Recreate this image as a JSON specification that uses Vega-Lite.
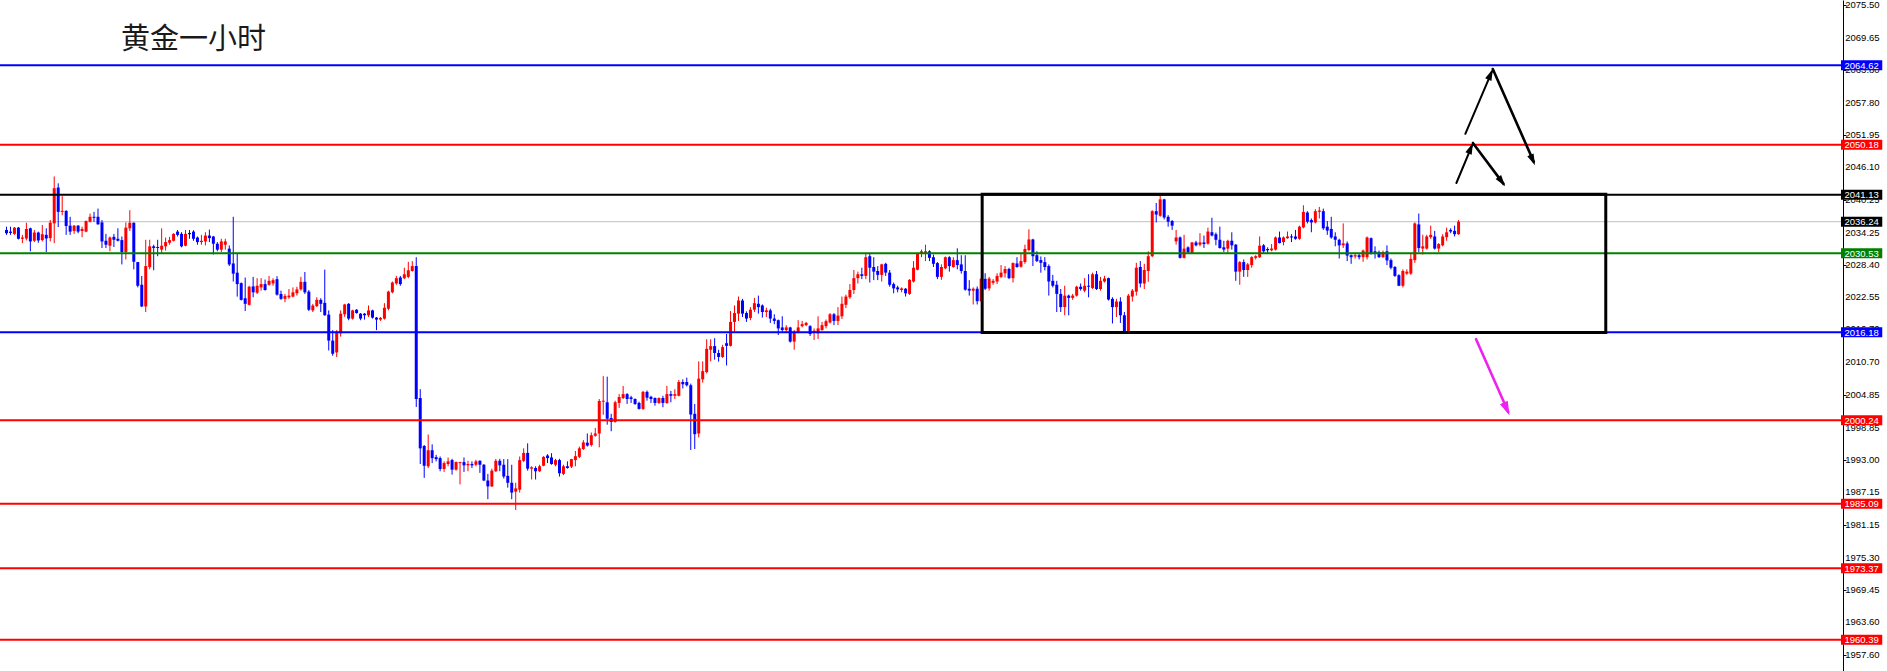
{
"$schema":"https://vega.github.io/schema/vega-lite/v6.json",
"width":1843,"height":671,
"autosize":{"type":"none"},
"padding":{"left":0,"top":0,"right":44,"bottom":0},
"background":"white",
"config":{"view":{"stroke":null}},
"datasets":{
"levels":[
{"price":2064.62,"grp":"target"},{"price":2050.18,"grp":"level"},{"price":2041.13,"grp":"box"},{"price":2036.24,"grp":"current"},{"price":2030.53,"grp":"pivot"},{"price":2016.18,"grp":"target"},{"price":2000.24,"grp":"level"},{"price":1985.09,"grp":"level"},{"price":1973.37,"grp":"level"},{"price":1960.39,"grp":"level"}],
"gridprices":[{"price":2075.5},{"price":2069.65},{"price":2063.8},{"price":2057.8},{"price":2051.95},{"price":2046.1},{"price":2040.25},{"price":2034.25},{"price":2028.4},{"price":2022.55},{"price":2016.7},{"price":2010.7},{"price":2004.85},{"price":1998.85},{"price":1993.0},{"price":1987.15},{"price":1981.15},{"price":1975.3},{"price":1969.45},{"price":1963.6},{"price":1957.6}],
"candles":[
{"k":0,"o":2034.74,"h":2035.34,"l":2033.85,"c":2034.14},
{"k":1,"o":2034.44,"h":2035.34,"l":2033.85,"c":2034.2},
{"k":2,"o":2034.03,"h":2035.28,"l":2033.85,"c":2035.16},
{"k":3,"o":2035.16,"h":2035.28,"l":2033.02,"c":2033.14},
{"k":4,"o":2033.14,"h":2033.85,"l":2032.36,"c":2033.37},
{"k":5,"o":2033.2,"h":2036.05,"l":2032.84,"c":2034.92},
{"k":6,"o":2035.04,"h":2035.16,"l":2030.87,"c":2032.66},
{"k":7,"o":2032.78,"h":2034.74,"l":2032.54,"c":2034.27},
{"k":8,"o":2034.27,"h":2034.44,"l":2032.42,"c":2032.84},
{"k":9,"o":2032.9,"h":2035.64,"l":2032.66,"c":2033.97},
{"k":10,"o":2033.85,"h":2035.04,"l":2030.75,"c":2033.2},
{"k":11,"o":2033.26,"h":2036.53,"l":2032.66,"c":2036.05},
{"k":12,"o":2035.94,"h":2044.45,"l":2032.36,"c":2042.31},
{"k":13,"o":2042.43,"h":2043.2,"l":2035.28,"c":2038.02},
{"k":14,"o":2038.02,"h":2040.88,"l":2037.42,"c":2038.2},
{"k":15,"o":2038.2,"h":2038.32,"l":2033.85,"c":2035.46},
{"k":16,"o":2035.52,"h":2037.13,"l":2033.85,"c":2034.44},
{"k":17,"o":2034.56,"h":2035.64,"l":2034.03,"c":2035.52},
{"k":18,"o":2035.52,"h":2035.64,"l":2034.14,"c":2034.44},
{"k":19,"o":2034.56,"h":2035.34,"l":2033.43,"c":2034.92},
{"k":20,"o":2034.44,"h":2036.47,"l":2034.33,"c":2036.35},
{"k":21,"o":2036.23,"h":2037.72,"l":2036.11,"c":2037.13},
{"k":22,"o":2037.13,"h":2038.02,"l":2036.23,"c":2036.95},
{"k":23,"o":2037.13,"h":2038.62,"l":2035.7,"c":2035.76},
{"k":24,"o":2036.11,"h":2036.53,"l":2031.47,"c":2032.66},
{"k":25,"o":2032.78,"h":2034.03,"l":2031.47,"c":2032.06},
{"k":26,"o":2031.88,"h":2033.55,"l":2030.87,"c":2033.37},
{"k":27,"o":2033.49,"h":2034.03,"l":2031.65,"c":2032.96},
{"k":28,"o":2033.14,"h":2035.04,"l":2032.66,"c":2032.78},
{"k":29,"o":2032.9,"h":2033.55,"l":2028.49,"c":2030.75},
{"k":30,"o":2030.75,"h":2036.11,"l":2029.38,"c":2035.16},
{"k":31,"o":2035.04,"h":2038.32,"l":2034.56,"c":2036.05},
{"k":32,"o":2036.05,"h":2036.11,"l":2027.6,"c":2028.97},
{"k":33,"o":2028.91,"h":2028.95,"l":2024.32,"c":2024.62},
{"k":34,"o":2024.8,"h":2026.4,"l":2020.75,"c":2020.86},
{"k":35,"o":2020.86,"h":2032.96,"l":2019.85,"c":2028.19},
{"k":36,"o":2028.01,"h":2032.96,"l":2027.6,"c":2031.77},
{"k":37,"o":2031.77,"h":2032.06,"l":2027.42,"c":2031.47},
{"k":38,"o":2031.65,"h":2032.96,"l":2029.98,"c":2031.47},
{"k":39,"o":2031.17,"h":2035.04,"l":2030.58,"c":2031.88},
{"k":40,"o":2031.77,"h":2033.37,"l":2030.99,"c":2032.54},
{"k":41,"o":2032.42,"h":2033.49,"l":2032.06,"c":2032.9},
{"k":42,"o":2032.78,"h":2034.15,"l":2032.66,"c":2034.03},
{"k":43,"o":2034.44,"h":2034.74,"l":2033.55,"c":2033.85},
{"k":44,"o":2034.03,"h":2034.33,"l":2031.59,"c":2031.77},
{"k":45,"o":2031.88,"h":2034.74,"l":2031.77,"c":2034.03},
{"k":46,"o":2034.2,"h":2034.74,"l":2033.14,"c":2033.97},
{"k":47,"o":2034.44,"h":2034.68,"l":2032.78,"c":2033.14},
{"k":48,"o":2033.37,"h":2033.55,"l":2032.06,"c":2032.54},
{"k":49,"o":2032.54,"h":2033.85,"l":2032.06,"c":2032.78},
{"k":50,"o":2032.66,"h":2034.33,"l":2031.94,"c":2033.73},
{"k":51,"o":2033.73,"h":2034.8,"l":2032.54,"c":2033.26},
{"k":52,"o":2033.55,"h":2033.67,"l":2030.28,"c":2032.24},
{"k":53,"o":2032.24,"h":2032.54,"l":2030.87,"c":2031.17},
{"k":54,"o":2031.17,"h":2033.14,"l":2030.75,"c":2032.66},
{"k":55,"o":2032.06,"h":2033.14,"l":2031.17,"c":2032.66},
{"k":56,"o":2031.35,"h":2031.94,"l":2028.19,"c":2028.49},
{"k":57,"o":2028.67,"h":2037.13,"l":2025.39,"c":2026.82},
{"k":58,"o":2026.99,"h":2030.4,"l":2022.65,"c":2024.92},
{"k":59,"o":2025.1,"h":2025.21,"l":2021.94,"c":2022.06},
{"k":60,"o":2022.35,"h":2026.11,"l":2020.03,"c":2021.34},
{"k":61,"o":2021.16,"h":2024.62,"l":2021.04,"c":2024.44},
{"k":62,"o":2024.5,"h":2026.23,"l":2022.53,"c":2023.43},
{"k":63,"o":2023.37,"h":2025.99,"l":2023.13,"c":2024.62},
{"k":64,"o":2024.32,"h":2025.99,"l":2023.73,"c":2024.92},
{"k":65,"o":2024.92,"h":2025.75,"l":2023.73,"c":2023.85},
{"k":66,"o":2024.8,"h":2026.4,"l":2024.62,"c":2025.51},
{"k":67,"o":2025.04,"h":2025.99,"l":2024.62,"c":2025.63},
{"k":68,"o":2025.81,"h":2026.35,"l":2022.83,"c":2023.01},
{"k":69,"o":2023.13,"h":2023.73,"l":2022.06,"c":2022.24},
{"k":70,"o":2022.24,"h":2023.13,"l":2021.64,"c":2022.77},
{"k":71,"o":2022.53,"h":2024.02,"l":2022.24,"c":2022.83},
{"k":72,"o":2022.65,"h":2024.32,"l":2022.53,"c":2023.43},
{"k":73,"o":2023.25,"h":2024.44,"l":2022.83,"c":2023.96},
{"k":74,"o":2023.96,"h":2026.23,"l":2023.73,"c":2025.33},
{"k":75,"o":2025.33,"h":2027.12,"l":2023.13,"c":2023.43},
{"k":76,"o":2023.55,"h":2023.84,"l":2020.03,"c":2020.27},
{"k":77,"o":2020.15,"h":2021.34,"l":2019.85,"c":2021.04},
{"k":78,"o":2020.92,"h":2022.53,"l":2020.75,"c":2022.06},
{"k":79,"o":2022.06,"h":2022.35,"l":2019.85,"c":2021.34},
{"k":80,"o":2021.52,"h":2027.54,"l":2019.2,"c":2019.26},
{"k":81,"o":2019.38,"h":2020.15,"l":2012.88,"c":2014.67},
{"k":82,"o":2014.67,"h":2016.57,"l":2011.93,"c":2012.29},
{"k":83,"o":2012.53,"h":2016.57,"l":2011.69,"c":2016.28},
{"k":84,"o":2015.98,"h":2020.15,"l":2015.38,"c":2019.55},
{"k":85,"o":2019.44,"h":2021.34,"l":2018.96,"c":2021.22},
{"k":86,"o":2021.34,"h":2021.46,"l":2018.36,"c":2018.66},
{"k":87,"o":2018.66,"h":2020.27,"l":2018.48,"c":2020.15},
{"k":88,"o":2020.27,"h":2020.39,"l":2019.55,"c":2019.67},
{"k":89,"o":2019.55,"h":2019.67,"l":2018.36,"c":2018.66},
{"k":90,"o":2019.55,"h":2019.67,"l":2018.48,"c":2019.26},
{"k":91,"o":2019.26,"h":2021.04,"l":2018.96,"c":2020.15},
{"k":92,"o":2020.15,"h":2020.27,"l":2018.66,"c":2018.84},
{"k":93,"o":2018.84,"h":2018.96,"l":2016.57,"c":2018.48},
{"k":94,"o":2018.48,"h":2018.96,"l":2018.24,"c":2018.78},
{"k":95,"o":2018.66,"h":2021.46,"l":2018.48,"c":2020.63},
{"k":96,"o":2020.45,"h":2023.73,"l":2020.15,"c":2023.55},
{"k":97,"o":2023.43,"h":2025.39,"l":2023.25,"c":2025.21},
{"k":98,"o":2025.04,"h":2026.4,"l":2024.8,"c":2025.99},
{"k":99,"o":2026.11,"h":2026.4,"l":2024.62,"c":2024.92},
{"k":100,"o":2025.99,"h":2027.89,"l":2025.81,"c":2026.7},
{"k":101,"o":2026.23,"h":2028.97,"l":2025.99,"c":2027.42},
{"k":102,"o":2027.3,"h":2029.08,"l":2027.18,"c":2028.19},
{"k":103,"o":2028.19,"h":2029.8,"l":2002.64,"c":2004.07},
{"k":104,"o":2004.25,"h":2005.86,"l":1992.28,"c":1995.13},
{"k":105,"o":1995.55,"h":1995.73,"l":1989.77,"c":1991.97},
{"k":106,"o":1991.87,"h":1997.64,"l":1991.56,"c":1994.78},
{"k":107,"o":1994.78,"h":1995.85,"l":1992.45,"c":1993.35},
{"k":108,"o":1993.53,"h":1993.94,"l":1992.76,"c":1993.17},
{"k":109,"o":1993.35,"h":1993.65,"l":1990.97,"c":1991.38},
{"k":110,"o":1991.38,"h":1992.76,"l":1990.85,"c":1992.45},
{"k":111,"o":1992.28,"h":1993.47,"l":1991.87,"c":1992.76},
{"k":112,"o":1992.99,"h":1993.22,"l":1990.36,"c":1991.26},
{"k":113,"o":1991.26,"h":1992.76,"l":1991.08,"c":1992.63},
{"k":114,"o":1992.45,"h":1992.7,"l":1988.58,"c":1992.63},
{"k":115,"o":1992.63,"h":1993.47,"l":1990.85,"c":1992.04},
{"k":116,"o":1992.04,"h":1992.87,"l":1990.97,"c":1992.28},
{"k":117,"o":1992.28,"h":1992.76,"l":1991.56,"c":1992.04},
{"k":118,"o":1992.15,"h":1993.05,"l":1991.87,"c":1992.76},
{"k":119,"o":1992.87,"h":1992.94,"l":1990.67,"c":1992.15},
{"k":120,"o":1992.15,"h":1992.28,"l":1989.18,"c":1989.29},
{"k":121,"o":1989.29,"h":1990.49,"l":1985.9,"c":1988.22},
{"k":122,"o":1988.22,"h":1991.44,"l":1988.11,"c":1991.08},
{"k":123,"o":1990.97,"h":1993.22,"l":1990.85,"c":1992.87},
{"k":124,"o":1992.87,"h":1993.22,"l":1990.97,"c":1992.04},
{"k":125,"o":1992.15,"h":1993.17,"l":1989.65,"c":1990.01},
{"k":126,"o":1990.13,"h":1993.17,"l":1987.99,"c":1988.88},
{"k":127,"o":1988.88,"h":1992.15,"l":1985.9,"c":1987.1},
{"k":128,"o":1987.27,"h":1988.88,"l":1983.93,"c":1987.86},
{"k":129,"o":1987.63,"h":1993.65,"l":1987.1,"c":1992.99},
{"k":130,"o":1992.87,"h":1995.13,"l":1992.63,"c":1994.3},
{"k":131,"o":1994.3,"h":1996.03,"l":1991.08,"c":1991.44},
{"k":132,"o":1991.44,"h":1991.87,"l":1989.47,"c":1991.69},
{"k":133,"o":1991.56,"h":1991.87,"l":1989.47,"c":1990.97},
{"k":134,"o":1990.97,"h":1992.15,"l":1990.85,"c":1991.87},
{"k":135,"o":1991.97,"h":1993.7,"l":1991.87,"c":1993.58},
{"k":136,"o":1993.83,"h":1994.06,"l":1992.45,"c":1993.35},
{"k":137,"o":1993.47,"h":1994.24,"l":1992.15,"c":1992.28},
{"k":138,"o":1992.15,"h":1993.22,"l":1991.87,"c":1992.99},
{"k":139,"o":1992.99,"h":1993.22,"l":1990.01,"c":1990.61},
{"k":140,"o":1990.49,"h":1992.15,"l":1990.26,"c":1991.87},
{"k":141,"o":1991.87,"h":1992.76,"l":1991.44,"c":1991.56},
{"k":142,"o":1991.8,"h":1993.22,"l":1991.56,"c":1993.17},
{"k":143,"o":1993.0,"h":1994.65,"l":1991.87,"c":1993.7},
{"k":144,"o":1993.58,"h":1995.44,"l":1993.35,"c":1995.13},
{"k":145,"o":1995.01,"h":1996.62,"l":1994.83,"c":1996.21},
{"k":146,"o":1996.15,"h":1997.82,"l":1995.44,"c":1995.62},
{"k":147,"o":1995.73,"h":1998.0,"l":1995.44,"c":1997.51},
{"k":148,"o":1997.41,"h":1998.83,"l":1997.23,"c":1997.82},
{"k":149,"o":1997.82,"h":2004.07,"l":1995.31,"c":2003.71},
{"k":150,"o":2003.59,"h":2008.23,"l":2001.21,"c":2003.77},
{"k":151,"o":2003.48,"h":2008.13,"l":1999.42,"c":2000.5},
{"k":152,"o":2000.62,"h":2001.39,"l":1998.23,"c":1999.91},
{"k":153,"o":1999.91,"h":2003.77,"l":1999.78,"c":2003.48},
{"k":154,"o":2003.36,"h":2004.96,"l":2002.46,"c":2004.43},
{"k":155,"o":2004.25,"h":2006.45,"l":2004.07,"c":2004.96},
{"k":156,"o":2004.96,"h":2005.14,"l":2003.18,"c":2004.07},
{"k":157,"o":2004.37,"h":2004.66,"l":2003.36,"c":2004.07},
{"k":158,"o":2004.07,"h":2004.19,"l":2003.0,"c":2003.18},
{"k":159,"o":2003.36,"h":2003.59,"l":2002.16,"c":2002.28},
{"k":160,"o":2002.28,"h":2005.55,"l":2002.1,"c":2005.37},
{"k":161,"o":2005.37,"h":2005.62,"l":2003.77,"c":2004.3},
{"k":162,"o":2004.48,"h":2004.66,"l":2003.36,"c":2004.07},
{"k":163,"o":2004.25,"h":2004.37,"l":2002.87,"c":2003.36},
{"k":164,"o":2003.36,"h":2004.37,"l":2003.18,"c":2004.25},
{"k":165,"o":2004.25,"h":2004.66,"l":2002.58,"c":2003.36},
{"k":166,"o":2003.36,"h":2006.45,"l":2003.18,"c":2004.96},
{"k":167,"o":2004.96,"h":2005.55,"l":2003.48,"c":2004.66},
{"k":168,"o":2004.66,"h":2005.86,"l":2004.07,"c":2004.96},
{"k":169,"o":2004.66,"h":2007.52,"l":2004.55,"c":2007.16},
{"k":170,"o":2007.16,"h":2007.64,"l":2005.98,"c":2006.75},
{"k":171,"o":2007.16,"h":2007.95,"l":2006.34,"c":2006.57},
{"k":172,"o":2006.57,"h":2006.87,"l":1994.83,"c":2001.26},
{"k":173,"o":2001.39,"h":2003.18,"l":1995.01,"c":1997.69},
{"k":174,"o":1997.82,"h":2010.91,"l":1997.1,"c":2007.77},
{"k":175,"o":2007.64,"h":2010.91,"l":2007.05,"c":2009.13},
{"k":176,"o":2008.95,"h":2014.92,"l":2008.71,"c":2013.18},
{"k":177,"o":2013.01,"h":2014.92,"l":2010.91,"c":2013.67},
{"k":178,"o":2013.67,"h":2015.1,"l":2011.22,"c":2012.42},
{"k":179,"o":2012.42,"h":2013.01,"l":2010.86,"c":2011.7},
{"k":180,"o":2011.7,"h":2013.9,"l":2011.52,"c":2013.49},
{"k":181,"o":2014.2,"h":2015.87,"l":2010.15,"c":2013.72},
{"k":182,"o":2013.72,"h":2020.03,"l":2013.6,"c":2018.06},
{"k":183,"o":2018.06,"h":2021.05,"l":2016.27,"c":2019.67},
{"k":184,"o":2019.56,"h":2022.66,"l":2018.24,"c":2021.94},
{"k":185,"o":2021.94,"h":2022.24,"l":2018.95,"c":2019.56},
{"k":186,"o":2019.67,"h":2019.97,"l":2018.06,"c":2018.67},
{"k":187,"o":2018.78,"h":2020.74,"l":2018.37,"c":2020.28},
{"k":188,"o":2020.28,"h":2022.42,"l":2019.85,"c":2021.46},
{"k":189,"o":2021.35,"h":2022.83,"l":2019.56,"c":2020.74},
{"k":190,"o":2021.05,"h":2021.23,"l":2018.85,"c":2019.85},
{"k":191,"o":2019.85,"h":2020.64,"l":2018.95,"c":2020.15},
{"k":192,"o":2020.15,"h":2020.46,"l":2017.88,"c":2018.67},
{"k":193,"o":2018.67,"h":2019.44,"l":2017.65,"c":2018.24},
{"k":194,"o":2018.37,"h":2018.49,"l":2015.69,"c":2016.88},
{"k":195,"o":2017.06,"h":2019.08,"l":2016.27,"c":2016.58},
{"k":196,"o":2016.58,"h":2017.47,"l":2016.1,"c":2017.06},
{"k":197,"o":2017.06,"h":2017.17,"l":2014.31,"c":2014.49},
{"k":198,"o":2014.49,"h":2016.58,"l":2013.01,"c":2016.27},
{"k":199,"o":2016.27,"h":2018.37,"l":2015.99,"c":2017.06},
{"k":200,"o":2017.29,"h":2018.24,"l":2017.06,"c":2017.65},
{"k":201,"o":2017.47,"h":2018.06,"l":2017.29,"c":2017.88},
{"k":202,"o":2017.29,"h":2017.47,"l":2015.51,"c":2015.87},
{"k":203,"o":2016.1,"h":2016.88,"l":2014.79,"c":2016.46},
{"k":204,"o":2015.99,"h":2019.08,"l":2014.97,"c":2016.88},
{"k":205,"o":2016.58,"h":2018.06,"l":2016.46,"c":2017.47},
{"k":206,"o":2017.29,"h":2018.49,"l":2016.88,"c":2018.19},
{"k":207,"o":2017.96,"h":2019.67,"l":2017.77,"c":2019.44},
{"k":208,"o":2019.44,"h":2019.67,"l":2017.47,"c":2018.24},
{"k":209,"o":2018.24,"h":2020.74,"l":2017.47,"c":2019.2},
{"k":210,"o":2019.08,"h":2022.66,"l":2018.6,"c":2021.35},
{"k":211,"o":2021.17,"h":2023.01,"l":2020.56,"c":2022.66},
{"k":212,"o":2022.53,"h":2024.92,"l":2022.24,"c":2023.85},
{"k":213,"o":2023.85,"h":2027.48,"l":2023.14,"c":2026.0},
{"k":214,"o":2026.0,"h":2027.18,"l":2025.03,"c":2026.71},
{"k":215,"o":2026.71,"h":2027.89,"l":2025.82,"c":2026.41},
{"k":216,"o":2026.41,"h":2030.57,"l":2025.82,"c":2029.8},
{"k":217,"o":2029.98,"h":2030.57,"l":2025.21,"c":2027.89},
{"k":218,"o":2028.02,"h":2029.8,"l":2025.64,"c":2027.18},
{"k":219,"o":2027.3,"h":2028.19,"l":2025.64,"c":2026.59},
{"k":220,"o":2026.59,"h":2028.6,"l":2025.39,"c":2028.5},
{"k":221,"o":2028.6,"h":2028.78,"l":2026.41,"c":2027.0},
{"k":222,"o":2027.0,"h":2027.48,"l":2024.44,"c":2024.8},
{"k":223,"o":2024.92,"h":2025.21,"l":2023.25,"c":2024.14},
{"k":224,"o":2024.32,"h":2024.62,"l":2023.43,"c":2023.96},
{"k":225,"o":2023.85,"h":2024.32,"l":2023.43,"c":2024.14},
{"k":226,"o":2024.08,"h":2024.2,"l":2022.66,"c":2023.25},
{"k":227,"o":2023.14,"h":2025.82,"l":2022.96,"c":2025.69},
{"k":228,"o":2025.39,"h":2029.09,"l":2025.21,"c":2027.89},
{"k":229,"o":2027.53,"h":2030.57,"l":2027.42,"c":2030.39},
{"k":230,"o":2030.39,"h":2031.18,"l":2029.8,"c":2030.87},
{"k":231,"o":2030.57,"h":2032.07,"l":2029.09,"c":2030.87},
{"k":232,"o":2030.87,"h":2031.05,"l":2029.09,"c":2029.68},
{"k":233,"o":2029.8,"h":2030.28,"l":2028.02,"c":2028.6},
{"k":234,"o":2028.73,"h":2028.91,"l":2025.82,"c":2026.23},
{"k":235,"o":2026.23,"h":2028.5,"l":2025.69,"c":2028.02},
{"k":236,"o":2027.78,"h":2029.93,"l":2027.6,"c":2029.8},
{"k":237,"o":2029.8,"h":2029.98,"l":2027.18,"c":2028.19},
{"k":238,"o":2028.02,"h":2029.8,"l":2027.89,"c":2029.27},
{"k":239,"o":2029.27,"h":2031.41,"l":2027.6,"c":2028.37},
{"k":240,"o":2028.5,"h":2030.16,"l":2026.82,"c":2027.3},
{"k":241,"o":2027.3,"h":2030.16,"l":2023.73,"c":2023.9},
{"k":242,"o":2024.08,"h":2025.64,"l":2022.83,"c":2023.73},
{"k":243,"o":2023.73,"h":2024.32,"l":2021.22,"c":2024.08},
{"k":244,"o":2024.08,"h":2024.5,"l":2021.22,"c":2021.82},
{"k":245,"o":2021.82,"h":2026.1,"l":2021.64,"c":2025.87},
{"k":246,"o":2025.87,"h":2026.89,"l":2023.85,"c":2024.08},
{"k":247,"o":2024.14,"h":2026.23,"l":2023.73,"c":2025.93},
{"k":248,"o":2025.16,"h":2025.82,"l":2024.8,"c":2025.51},
{"k":249,"o":2025.39,"h":2026.89,"l":2024.92,"c":2026.41},
{"k":250,"o":2026.23,"h":2028.37,"l":2026.0,"c":2027.0},
{"k":251,"o":2026.89,"h":2028.19,"l":2026.1,"c":2027.66},
{"k":252,"o":2027.66,"h":2027.89,"l":2025.82,"c":2026.0},
{"k":253,"o":2026.0,"h":2028.85,"l":2025.21,"c":2028.73},
{"k":254,"o":2028.67,"h":2029.8,"l":2027.89,"c":2028.02},
{"k":255,"o":2028.07,"h":2030.39,"l":2027.89,"c":2029.09},
{"k":256,"o":2028.91,"h":2032.07,"l":2028.6,"c":2031.29},
{"k":257,"o":2031.11,"h":2034.86,"l":2030.87,"c":2033.02},
{"k":258,"o":2033.02,"h":2033.14,"l":2028.19,"c":2029.98},
{"k":259,"o":2030.16,"h":2030.87,"l":2028.91,"c":2029.09},
{"k":260,"o":2029.27,"h":2029.93,"l":2026.99,"c":2028.78},
{"k":261,"o":2028.91,"h":2029.8,"l":2027.42,"c":2028.02},
{"k":262,"o":2028.19,"h":2028.5,"l":2022.83,"c":2025.39},
{"k":263,"o":2025.51,"h":2026.59,"l":2024.32,"c":2024.62},
{"k":264,"o":2024.8,"h":2025.51,"l":2019.85,"c":2023.14},
{"k":265,"o":2023.14,"h":2024.03,"l":2019.85,"c":2020.74},
{"k":266,"o":2020.74,"h":2024.62,"l":2019.26,"c":2022.83},
{"k":267,"o":2022.83,"h":2023.01,"l":2019.26,"c":2022.42},
{"k":268,"o":2022.42,"h":2023.14,"l":2022.06,"c":2022.83},
{"k":269,"o":2022.83,"h":2024.62,"l":2022.66,"c":2024.44},
{"k":270,"o":2024.44,"h":2025.03,"l":2023.73,"c":2024.03},
{"k":271,"o":2023.73,"h":2026.0,"l":2023.43,"c":2024.62},
{"k":272,"o":2024.62,"h":2026.71,"l":2022.53,"c":2024.44},
{"k":273,"o":2024.21,"h":2027.0,"l":2024.03,"c":2026.71},
{"k":274,"o":2026.71,"h":2027.3,"l":2023.85,"c":2024.03},
{"k":275,"o":2024.03,"h":2026.23,"l":2023.73,"c":2025.51},
{"k":276,"o":2025.39,"h":2026.41,"l":2025.21,"c":2025.93},
{"k":277,"o":2026.0,"h":2026.1,"l":2021.94,"c":2022.12},
{"k":278,"o":2022.24,"h":2022.53,"l":2017.77,"c":2020.74},
{"k":279,"o":2020.74,"h":2022.24,"l":2018.95,"c":2021.76},
{"k":280,"o":2021.76,"h":2022.53,"l":2017.88,"c":2019.26},
{"k":281,"o":2019.26,"h":2019.85,"l":2016.2,"c":2016.27},
{"k":282,"o":2016.27,"h":2023.14,"l":2016.1,"c":2022.83},
{"k":283,"o":2022.66,"h":2024.03,"l":2021.76,"c":2023.73},
{"k":284,"o":2023.55,"h":2028.78,"l":2022.83,"c":2027.89},
{"k":285,"o":2028.02,"h":2029.09,"l":2024.32,"c":2025.03},
{"k":286,"o":2025.03,"h":2028.6,"l":2024.03,"c":2027.48},
{"k":287,"o":2027.3,"h":2030.87,"l":2025.33,"c":2029.98},
{"k":288,"o":2029.98,"h":2038.33,"l":2029.8,"c":2038.15},
{"k":289,"o":2038.15,"h":2039.63,"l":2036.11,"c":2037.54},
{"k":290,"o":2037.31,"h":2041.01,"l":2037.13,"c":2040.29},
{"k":291,"o":2040.29,"h":2040.4,"l":2036.65,"c":2037.0},
{"k":292,"o":2037.13,"h":2037.43,"l":2035.34,"c":2036.24},
{"k":293,"o":2036.36,"h":2036.54,"l":2034.75,"c":2035.52},
{"k":294,"o":2032.66,"h":2034.75,"l":2032.07,"c":2033.38},
{"k":295,"o":2033.38,"h":2033.56,"l":2029.56,"c":2029.68},
{"k":296,"o":2029.68,"h":2033.86,"l":2029.56,"c":2031.36},
{"k":297,"o":2031.59,"h":2031.77,"l":2030.57,"c":2030.7},
{"k":298,"o":2030.57,"h":2032.54,"l":2030.52,"c":2032.48},
{"k":299,"o":2032.48,"h":2032.78,"l":2031.77,"c":2031.95},
{"k":300,"o":2032.07,"h":2034.15,"l":2031.77,"c":2032.48},
{"k":301,"o":2032.48,"h":2033.73,"l":2031.47,"c":2032.18},
{"k":302,"o":2032.25,"h":2035.16,"l":2032.07,"c":2034.45},
{"k":303,"o":2034.33,"h":2036.95,"l":2033.56,"c":2033.73},
{"k":304,"o":2033.97,"h":2034.27,"l":2031.95,"c":2032.96},
{"k":305,"o":2032.96,"h":2035.34,"l":2031.36,"c":2031.47},
{"k":306,"o":2031.59,"h":2032.78,"l":2030.75,"c":2031.18},
{"k":307,"o":2031.36,"h":2032.96,"l":2030.57,"c":2032.78},
{"k":308,"o":2032.78,"h":2034.32,"l":2031.18,"c":2031.95},
{"k":309,"o":2032.07,"h":2032.18,"l":2025.51,"c":2027.18},
{"k":310,"o":2027.18,"h":2029.09,"l":2024.8,"c":2028.91},
{"k":311,"o":2028.91,"h":2029.39,"l":2026.23,"c":2027.48},
{"k":312,"o":2027.48,"h":2028.78,"l":2026.23,"c":2028.5},
{"k":313,"o":2028.37,"h":2029.98,"l":2027.89,"c":2029.8},
{"k":314,"o":2029.68,"h":2030.16,"l":2029.39,"c":2029.98},
{"k":315,"o":2029.8,"h":2033.56,"l":2029.68,"c":2031.89},
{"k":316,"o":2031.95,"h":2032.18,"l":2030.57,"c":2030.87},
{"k":317,"o":2031.29,"h":2031.59,"l":2030.57,"c":2031.05},
{"k":318,"o":2031.05,"h":2032.18,"l":2030.87,"c":2031.36},
{"k":319,"o":2031.18,"h":2033.56,"l":2031.0,"c":2033.38},
{"k":320,"o":2033.38,"h":2034.45,"l":2032.3,"c":2032.36},
{"k":321,"o":2032.54,"h":2033.56,"l":2031.95,"c":2033.38},
{"k":322,"o":2033.25,"h":2034.45,"l":2033.14,"c":2033.56},
{"k":323,"o":2033.56,"h":2033.97,"l":2032.54,"c":2033.38},
{"k":324,"o":2033.56,"h":2034.75,"l":2032.96,"c":2033.14},
{"k":325,"o":2033.14,"h":2035.52,"l":2032.96,"c":2035.34},
{"k":326,"o":2035.22,"h":2039.22,"l":2035.04,"c":2038.02},
{"k":327,"o":2037.9,"h":2038.15,"l":2035.93,"c":2036.24},
{"k":328,"o":2036.54,"h":2036.83,"l":2034.32,"c":2036.11},
{"k":329,"o":2036.11,"h":2038.51,"l":2035.93,"c":2038.15},
{"k":330,"o":2038.02,"h":2038.92,"l":2036.83,"c":2038.26},
{"k":331,"o":2038.15,"h":2038.61,"l":2034.75,"c":2035.04},
{"k":332,"o":2035.34,"h":2036.36,"l":2033.86,"c":2034.63},
{"k":333,"o":2034.93,"h":2037.13,"l":2033.14,"c":2033.38},
{"k":334,"o":2033.56,"h":2034.32,"l":2031.77,"c":2032.96},
{"k":335,"o":2032.96,"h":2033.14,"l":2029.56,"c":2031.95},
{"k":336,"o":2031.95,"h":2035.93,"l":2031.47,"c":2032.3},
{"k":337,"o":2032.3,"h":2032.66,"l":2029.09,"c":2030.1},
{"k":338,"o":2030.16,"h":2030.28,"l":2028.6,"c":2029.8},
{"k":339,"o":2029.93,"h":2030.57,"l":2029.56,"c":2030.16},
{"k":340,"o":2030.16,"h":2030.39,"l":2029.39,"c":2029.8},
{"k":341,"o":2029.8,"h":2031.18,"l":2028.96,"c":2031.0},
{"k":342,"o":2029.8,"h":2033.56,"l":2029.39,"c":2033.38},
{"k":343,"o":2033.25,"h":2033.38,"l":2030.28,"c":2030.57},
{"k":344,"o":2030.87,"h":2031.77,"l":2029.56,"c":2030.57},
{"k":345,"o":2030.75,"h":2031.0,"l":2029.68,"c":2029.8},
{"k":346,"o":2029.8,"h":2031.0,"l":2029.68,"c":2030.75},
{"k":347,"o":2030.87,"h":2031.95,"l":2028.37,"c":2029.21},
{"k":348,"o":2029.27,"h":2029.56,"l":2027.6,"c":2027.89},
{"k":349,"o":2028.02,"h":2028.19,"l":2026.23,"c":2026.41},
{"k":350,"o":2026.53,"h":2026.71,"l":2024.55,"c":2024.62},
{"k":351,"o":2024.62,"h":2027.6,"l":2024.32,"c":2027.3},
{"k":352,"o":2026.82,"h":2027.6,"l":2026.59,"c":2027.18},
{"k":353,"o":2026.82,"h":2030.39,"l":2026.59,"c":2029.5},
{"k":354,"o":2029.27,"h":2036.11,"l":2028.78,"c":2035.93},
{"k":355,"o":2035.75,"h":2037.72,"l":2030.75,"c":2031.47},
{"k":356,"o":2031.36,"h":2033.86,"l":2030.28,"c":2031.77},
{"k":357,"o":2031.36,"h":2033.86,"l":2031.18,"c":2033.56},
{"k":358,"o":2033.43,"h":2035.52,"l":2033.14,"c":2033.86},
{"k":359,"o":2033.56,"h":2034.57,"l":2031.18,"c":2031.36},
{"k":360,"o":2031.36,"h":2032.36,"l":2030.75,"c":2032.18},
{"k":361,"o":2031.95,"h":2033.97,"l":2031.77,"c":2033.56},
{"k":362,"o":2033.43,"h":2035.16,"l":2032.78,"c":2034.32},
{"k":363,"o":2034.75,"h":2035.04,"l":2034.15,"c":2034.45},
{"k":364,"o":2034.57,"h":2035.52,"l":2033.56,"c":2033.97},
{"k":365,"o":2033.97,"h":2036.54,"l":2033.86,"c":2036.24}
]},
"layer":[
{"data":{"name":"levels"},"transform":[{"filter":"datum.grp === 'current'"}],
 "mark":{"type":"rule","color":"#c0c0c0","strokeWidth":1},
 "encoding":{"y":{"field":"price","type":"quantitative","scale":{"domain":[1955.64,2075.55],"nice":false,"zero":false},
  "axis":{"orient":"right","values":[2075.5,2069.65,2063.8,2057.8,2051.95,2046.1,2040.25,2034.25,2028.4,2022.55,2016.7,2010.7,2004.85,1998.85,1993.0,1987.15,1981.15,1975.3,1969.45,1963.6,1957.6],
   "grid":false,"domain":true,"domainColor":"#000000","domainWidth":1,"ticks":true,"tickColor":"#000000","tickSize":3,"tickWidth":1,"labels":false,"title":null}}}},
{"data":{"name":"candles"},
 "mark":{"type":"rule","strokeWidth":1},
 "encoding":{"x":{"field":"k","type":"quantitative","scale":{"domain":[-0.375,460.375],"nice":false,"zero":false},"axis":null},
  "y":{"field":"l","type":"quantitative"},"y2":{"field":"h"},
  "color":{"condition":{"test":"datum.c >= datum.o","value":"#ff0000"},"value":"#0000ff"}}},
{"data":{"name":"candles"},
 "mark":{"type":"bar","size":3,"orient":"vertical"},
 "encoding":{"x":{"field":"k","type":"quantitative"},
  "y":{"field":"o","type":"quantitative"},"y2":{"field":"c"},
  "color":{"condition":{"test":"datum.c >= datum.o","value":"#ff0000"},"value":"#0000ff"}}},
{"data":{"name":"levels"},"transform":[{"filter":"datum.grp !== 'current'"}],
 "mark":{"type":"rule","strokeWidth":2},
 "encoding":{"y":{"field":"price","type":"quantitative"},
  "color":{"field":"grp","type":"nominal","scale":{"domain":["target","level","box","pivot","current"],"range":["#0000ff","#ff0000","#000000","#008000","#000000"]},"legend":null}}},
{"data":{"values":[{"k1":245.25,"k2":402.0,"top":2041.2,"bottom":2016.15}]},
 "mark":{"type":"rect","fill":"transparent","stroke":"#000000","strokeWidth":3},
 "encoding":{"x":{"field":"k1","type":"quantitative"},"x2":{"field":"k2"},"y":{"field":"top","type":"quantitative"},"y2":{"field":"bottom"}}},
{"data":{"values":[
 {"seg":"A1 up","ord":0,"x":364.45,"p":2043.26},{"seg":"A1 up","ord":1,"x":368.4,"p":2050.1},
 {"seg":"A1 down","ord":0,"x":368.6,"p":2050.53},{"seg":"A1 down","ord":1,"x":376.3,"p":2043.1},
 {"seg":"A2 up","ord":0,"x":366.7,"p":2052.19},{"seg":"A2 up","ord":1,"x":373.4,"p":2063.5},
 {"seg":"A2 down","ord":0,"x":373.6,"p":2063.93},{"seg":"A2 down","ord":1,"x":383.9,"p":2047.1},
 {"seg":"break","ord":0,"x":369.4,"p":2014.92},{"seg":"break","ord":1,"x":377.5,"p":2001.7}]},
 "mark":{"type":"line","strokeCap":"round"},
 "encoding":{"x":{"field":"x","type":"quantitative"},"y":{"field":"p","type":"quantitative"},
  "detail":{"field":"seg","type":"nominal"},"order":{"field":"ord","type":"quantitative"},
  "color":{"condition":{"test":"datum.seg === 'break'","value":"#ee22ee"},"value":"#000000"},
  "strokeWidth":{"condition":{"test":"datum.seg === 'A1 up' || datum.seg === 'A2 up'","value":2},"value":2.6}}},
{"data":{"values":[
 {"seg":"A1 up","x":368.6,"p":2050.53,"dir":22.3},
 {"seg":"A1 down","x":376.7,"p":2042.67,"dir":143.7},
 {"seg":"A2 up","x":373.6,"p":2063.93,"dir":23},
 {"seg":"A2 down","x":384.2,"p":2046.48,"dir":156.6},
 {"seg":"break","x":377.8,"p":2001.08,"dir":156.5}]},
 "mark":{"type":"point","shape":"M0,0L0.6,2L-0.6,2Z","filled":true,"opacity":1},
 "encoding":{"x":{"field":"x","type":"quantitative"},"y":{"field":"p","type":"quantitative"},
  "angle":{"field":"dir","type":"quantitative","scale":{"domain":[0,360],"range":[0,360]}},
  "size":{"condition":{"test":"datum.seg === 'break'","value":200},"value":130},
  "color":{"condition":{"test":"datum.seg === 'break'","value":"#ee22ee"},"value":"#000000"}}},
{"data":{"name":"gridprices"},
 "mark":{"type":"text","align":"left","baseline":"middle","font":"Liberation Sans","fontSize":9.5,"color":"#000000"},
 "encoding":{"x":{"datum":462.2,"type":"quantitative"},"y":{"field":"price","type":"quantitative"},
  "text":{"field":"price","type":"quantitative","format":".2f"}}},
{"data":{"name":"levels"},
 "mark":{"type":"bar","size":10,"orient":"horizontal"},
 "encoding":{"x":{"datum":461.125,"type":"quantitative"},"x2":{"datum":471.5},
  "y":{"field":"price","type":"quantitative"},
  "color":{"field":"grp","type":"nominal","scale":{"domain":["target","level","box","pivot","current"],"range":["#0000ff","#ff0000","#000000","#008000","#000000"]},"legend":null}}},
{"data":{"name":"levels"},
 "mark":{"type":"text","align":"left","baseline":"middle","font":"Liberation Sans","fontSize":9.5,"color":"#ffffff","dy":0.5},
 "encoding":{"x":{"datum":462.0,"type":"quantitative"},"y":{"field":"price","type":"quantitative"},
  "text":{"field":"price","type":"quantitative","format":".2f"}}},
{"data":{"values":[{"t":"黄金一小时","x":28.8,"p":2069.12}]},
 "mark":{"type":"text","align":"left","baseline":"middle","font":"Noto Sans CJK SC","fontSize":29,"color":"#1a1a1a"},
 "encoding":{"x":{"field":"x","type":"quantitative"},"y":{"field":"p","type":"quantitative"},"text":{"field":"t"}}}
]
}
